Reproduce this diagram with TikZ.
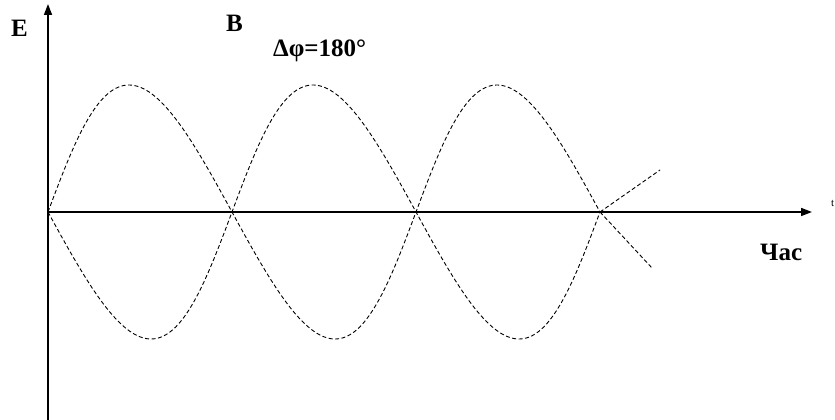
\documentclass[tikz,border=0pt]{standalone}
\usepackage{fontspec}
\setmainfont{Liberation Serif}
\usetikzlibrary{arrows.meta}
\tikzset{
  axis/.style={line width=1.6pt,-{Triangle[length=11pt,width=8pt]}},
  wave/.style={line width=0.9pt,dash pattern=on 4pt off 2.5pt},
  lbl/.style={inner sep=0pt,anchor=base west,font=\bfseries\fontsize{25}{30}\selectfont}
}
\begin{document}
\begin{tikzpicture}[x=1pt,y=1pt]
\useasboundingbox (0,0) rectangle (835,420);
\coordinate (o) at (48,208);
\coordinate (ytop) at (48,416);
\coordinate (ybot) at (48,0);
\coordinate (xend) at (812,208);
\draw[axis] (ybot) -- (ytop);
\draw[axis] (o) -- (xend);
\begin{scope}[shift={(48,208)},xslant=-0.087]
  \draw[wave] plot[domain=0:552,samples=240] (\x,{127*sin(\x*0.978261)}) coordinate (aend);
  \draw[wave] plot[domain=0:552,samples=240] (\x,{-127*sin(\x*0.978261)}) coordinate (bend);
\end{scope}
\coordinate (aout) at (652,152);
\coordinate (bout) at (660,250);
\draw[wave] (aend) -- (aout);
\draw[wave] (bend) -- (bout);
\node[lbl] (e) at (11,383) {E};
\node[lbl] (b) at (226,388) {B};
\node[lbl] (dphi) at (273,363) {Δφ=180°};
\node[lbl] (chas) at (760,159) {Час};
\node[inner sep=0pt,anchor=base west,font=\fontsize{11}{12}\selectfont] (t) at (831,213) {t};
\end{tikzpicture}
\end{document}
